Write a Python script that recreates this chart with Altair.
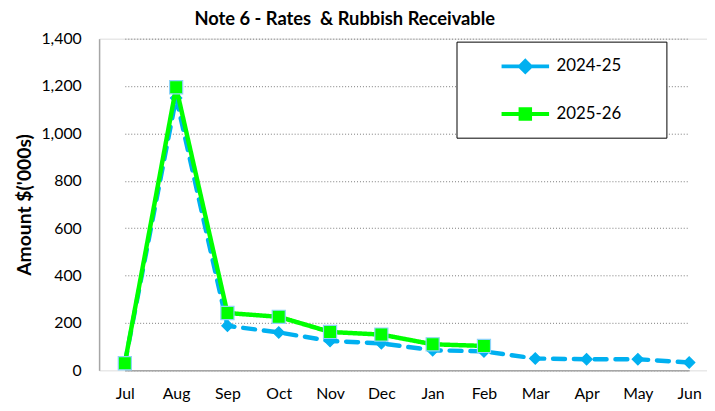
import altair as alt
import pandas as pd

months = ["Jul", "Aug", "Sep", "Oct", "Nov", "Dec", "Jan", "Feb", "Mar", "Apr", "May", "Jun"]
fy2024_25 = [30, 1150, 188, 160, 124, 114, 85, 80, 50, 47, 47, 33]
fy2025_26 = [30, 1195, 242, 226, 162, 151, 110, 103, None, None, None, None]
series_names = ["2024-25", "2025-26"]
series_colors = ["#00B0F0", "#00FF00"]
y_ticks = [0, 200, 400, 600, 800, 1000, 1200, 1400]

rows = []
for name, vals in zip(series_names, [fy2024_25, fy2025_26]):
    for m, v in zip(months, vals):
        if v is not None:
            rows.append({"month": m, "series": name, "value": v})
df = pd.DataFrame(rows)

FONT = "Lato"
# reversed domain for style-only channels (keeps their disabled legends apart from the colour legend)
rev_names = series_names[::-1]
rev_colors = series_colors[::-1]

x_enc = alt.X("month:N", sort=months,
              scale=alt.Scale(type="point", domain=months, range=[26, 596], padding=0),
              axis=alt.Axis(title=None, labelAngle=0, ticks=False, grid=False,
                            labelFontSize=16, labelPadding=15, labelColor="black",
                            domainColor="#A6A6A6", domainWidth=1.5, labelFont=FONT))
y_enc = alt.Y("value:Q",
              scale=alt.Scale(domain=[0, 1400], nice=False),
              axis=alt.Axis(title="Amount $('000s)", values=y_ticks, format=",d",
                            ticks=False, labelFontSize=16, labelPadding=18,
                            labelColor="black", labelFont=FONT,
                            titleFont=FONT, titleFontSize=19.5, titleFontWeight="bold",
                            titleColor="black", titlePadding=7,
                            grid=True, gridColor="#7A7A7A", gridDash=[1, 2], gridWidth=1,
                            domainColor="#A6A6A6", domainWidth=1.5))

path_2425 = "M-2,0H-0.45 M0,-0.45L0.45,0L0,0.45L-0.45,0Z M0.45,0H2"
path_2526 = "M-2,0H-0.4 M-0.4,-0.4H0.4V0.4H-0.4Z M0.4,0H2"

legend = alt.Legend(
    title=".", titleOrient="right", titleFontSize=4, titleColor="white", titlePadding=33,
    orient="none", legendX=361, legendY=3,
    padding=11, rowPadding=20, symbolSize=576, symbolStrokeWidth=4,
    symbolOffset=44.5, labelOffset=17.5, labelFontSize=17, labelFont=FONT,
    labelColor="black", strokeColor="black", fillColor="white",
    symbolType=alt.ExprRef(
        "datum.value == '2024-25' ? '" + path_2425 + "' : '" + path_2526 + "'"),
    symbolStrokeColor=alt.ExprRef(
        "datum.value == '2024-25' ? '" + series_colors[0] + "' : '" + series_colors[1] + "'"),
    symbolOpacity=1,
)

stroke_enc = alt.Stroke("series:N", scale=alt.Scale(domain=rev_names, range=rev_colors), legend=None)
dash_enc = alt.StrokeDash("series:N", scale=alt.Scale(domain=rev_names, range=[[1, 0], [12, 9]]),
                          legend=None)
color_enc = alt.Color("series:N", scale=alt.Scale(domain=series_names, range=series_colors),
                      legend=legend)
shape_enc = alt.Shape("series:N", scale=alt.Scale(domain=rev_names, range=["square", "diamond"]),
                      legend=None)

marker_border = {"2024-25": "#00B0F0", "2025-26": "#8DD3F7"}
marker_size = {"2024-25": 130, "2025-26": 175}

layers = []
for name in series_names:
    base = alt.Chart(df).transform_filter(alt.datum.series == name)
    layers.append(base.mark_line(strokeWidth=4.5, strokeCap="round").encode(
        x=x_enc, y=y_enc, stroke=stroke_enc, strokeDash=dash_enc))
    layers.append(base.mark_point(filled=True, opacity=1, size=marker_size[name],
                                  stroke=marker_border[name], strokeWidth=1.2).encode(
        x=x_enc, y=y_enc, color=color_enc, shape=shape_enc))

chart = alt.layer(*layers).properties(
    width=614, height=335,
    title=alt.TitleParams("Note 6 - Rates \u00a0& Rubbish Receivable", anchor="start", dx=182,
                          offset=2, fontSize=18.5, fontWeight="bold", font=FONT, color="black"),
    autosize=alt.AutoSizeParams(type="none"),
    padding={"left": 92, "top": 29, "right": 0, "bottom": 31},
).configure_view(stroke=None).configure(background="white")

chart.save("out.html", embed_options={"renderer": "svg", "actions": False})
